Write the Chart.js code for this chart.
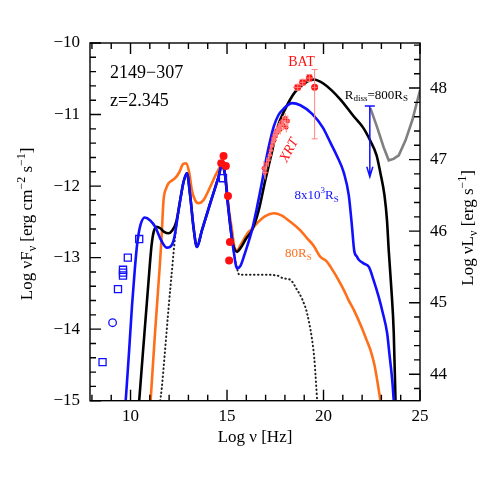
<!DOCTYPE html>
<html>
<head>
<meta charset="utf-8">
<script src="https://cdn.jsdelivr.net/npm/chart.js@4.4.1/dist/chart.umd.min.js"></script>
<style>
  html, body { margin: 0; padding: 0; background: #fff; }
  #wrap { width: 491px; height: 491px; }
</style>
</head>
<body>
<div id="wrap"><canvas id="sed"></canvas></div>
<script>
// x = log nu [Hz], y = log nuFnu [erg cm^-2 s^-1]
const xTicks = [10, 15, 20, 25];
const yTicks = [-15, -14, -13, -12, -11, -10];
const lumTicks = [44, 45, 46, 47, 48];
const lumOffset = 58.63; // log nuL_nu - log nuF_nu

// model curves
const modelBlack = [[10.45,-15],[11.00,-13.10],[11.09,-12.83],[11.20,-12.64],[11.35,-12.57],[11.54,-12.59],[11.74,-12.64],
  [11.97,-12.66],[12.16,-12.62],[12.37,-12.50],[12.57,-12.20],[12.75,-11.94],[12.92,-11.82],[13.09,-12.13],[13.26,-12.57],
  [13.44,-12.85],[13.70,-12.62],[14.13,-12.24],[14.56,-11.87],[14.73,-11.71],[14.88,-11.81],[15.08,-12.34],[15.27,-12.76],
  [15.52,-12.92],[15.69,-12.87],[16.00,-12.73],[16.29,-12.62],[16.64,-12.34],[16.98,-11.92],[17.33,-11.52],[17.59,-11.20],
  [18.02,-10.92],[18.54,-10.68],[19.15,-10.54],[19.48,-10.51],[20.01,-10.57],[20.88,-10.79],[21.55,-11.02],[22.07,-11.19],
  [22.43,-11.37],[22.75,-11.57],[22.95,-11.82],[23.16,-12.13],[23.29,-12.48],[23.38,-12.90],[23.52,-13.45],[23.64,-14.05],[23.73,-15]];
const modelBlue = [[9.75,-15],[9.93,-14.29],[10.08,-13.66],[10.22,-13.17],[10.34,-12.82],[10.50,-12.56],[10.74,-12.44],
  [11.02,-12.48],[11.28,-12.57],[11.59,-12.76],[11.87,-12.86],[12.05,-12.85],[12.26,-12.73],[12.49,-12.34],[12.75,-11.94],
  [12.92,-11.82],[13.09,-12.13],[13.26,-12.57],[13.44,-12.85],[13.70,-12.62],[14.13,-12.24],[14.56,-11.87],[14.73,-11.71],
  [14.88,-11.81],[15.08,-12.34],[15.34,-12.90],[15.52,-13.15],[15.69,-13.12],[15.95,-12.92],[16.29,-12.62],[16.52,-12.34],
  [16.83,-11.92],[17.07,-11.57],[17.42,-11.17],[17.66,-11.01],[17.93,-10.92],[18.37,-10.84],[18.80,-10.87],[19.41,-10.99],
  [19.96,-11.18],[20.37,-11.40],[20.68,-11.57],[21.06,-11.82],[21.31,-12.13],[21.47,-12.55],[21.59,-12.90],[21.74,-12.99],
  [21.83,-13.03],[22.07,-13.08],[22.35,-13.13],[22.59,-13.31],[22.86,-13.55],[23.06,-13.76],[23.30,-14.06],[23.42,-14.36],
  [23.56,-14.71],[23.64,-15]];
const modelOrange = [[11.04,-15],[11.28,-14.01],[11.52,-13.10],[11.60,-12.76],[11.71,-12.20],[11.85,-12.03],[11.97,-11.96],
  [12.16,-11.92],[12.31,-11.89],[12.52,-11.81],[12.73,-11.69],[12.89,-11.68],[13.04,-11.81],[13.18,-12.06],[13.35,-12.20],
  [13.52,-12.24],[13.77,-12.20],[14.13,-12.01],[14.44,-11.83],[14.74,-11.71],[14.91,-11.85],[15.08,-12.29],[15.27,-12.64],
  [15.38,-12.85],[15.52,-12.90],[15.69,-12.83],[15.90,-12.73],[16.12,-12.64],[16.29,-12.60],[16.62,-12.50],[16.98,-12.42],
  [17.42,-12.38],[17.82,-12.41],[18.28,-12.50],[18.80,-12.62],[19.15,-12.73],[19.48,-12.83],[19.84,-12.99],[20.15,-13.05],
  [20.53,-13.20],[20.77,-13.31],[21.05,-13.45],[21.29,-13.59],[21.57,-13.73],[22.00,-13.99],[22.23,-14.15],[22.43,-14.29],
  [22.64,-14.50],[22.78,-14.71],[22.95,-15]];
const modelThermal = [[11.54,-15],[11.62,-14.82],[11.80,-14.26],[11.97,-13.71],[12.14,-13.20],[12.31,-12.71],[12.47,-12.39],
  [12.63,-12.11],[12.78,-11.92],[12.92,-11.82],[13.09,-12.13],[13.26,-12.57],[13.44,-12.85],[13.70,-12.62],[14.13,-12.24],
  [14.56,-11.87],[14.73,-11.71],[14.88,-11.81],[15.08,-12.34],[15.34,-12.90],[15.52,-13.15],[15.64,-13.24],[16.21,-13.24],
  [16.98,-13.24],[17.59,-13.25],[17.93,-13.29],[18.28,-13.31],[18.63,-13.45],[18.91,-13.59],[19.15,-13.78],[19.41,-14.15],
  [19.53,-14.43],[19.58,-14.62],[19.67,-15]];
const fermiSens = [[22.43,-10.91],[22.78,-11.18],[23.12,-11.46],[23.38,-11.64],[23.63,-11.62],[23.90,-11.57],[24.25,-11.36],
  [24.60,-11.08],[25.00,-10.66]];

// observed data
const radioSquares = [[8.55,-14.46],[9.35,-13.44],[9.61,-13.17],[9.61,-13.21],[9.61,-13.25],[9.86,-13.00],[10.45,-12.74],[14.79,-11.89]];
const radioCircle = [[9.07,-13.91]];
const uvotPoints = [[14.82,-11.58],[14.70,-11.68],[14.94,-11.72],[15.05,-12.14],[15.15,-12.78],[15.11,-13.04]];
const xrtPoints = [[16.91,-11.75],[16.98,-11.81],[17.06,-11.69],[17.14,-11.64],[17.22,-11.57],[17.27,-11.50],[17.32,-11.44],
  [17.37,-11.39],[17.40,-11.33],[17.45,-11.36],[17.48,-11.28],[17.53,-11.30],[17.56,-11.23],[17.61,-11.25],[17.66,-11.19],
  [17.71,-11.16],[17.76,-11.21],[17.81,-11.14],[17.87,-11.09],[17.92,-11.15],[18.02,-11.05],[18.15,-11.09],[18.07,-11.18]];
const xrtErrX = [0.12,0.12,0.12,0.1,0.1,0.1,0.1,0.1,0.1,0.1,0.1,0.1,0.1,0.1,0.1,0.1,0.1,0.1,0.1,0.1,0.1,0.12,0.1];
const xrtErrY = [0.1,0.1,0.09,0.09,0.08,0.08,0.08,0.07,0.07,0.07,0.07,0.07,0.07,0.07,0.07,0.07,0.07,0.07,0.07,0.07,0.07,0.08,0.07];
const batPoints = [[18.66,-10.62],[18.92,-10.55],[19.27,-10.49],[19.54,-10.62]];
const batErrX = [0.25,0.15,0.2,0.15];
const batErrUp = [0.04,0.04,0.05,0.25];
const batErrDown = [0.04,0.04,0.05,0.72];
const latUpper = [22.40, -10.88, -11.87]; // x, limit, arrow tip

const BLUE = '#1010ff', ORANGE = '#ff6f1a', RED = '#ff1010', ERR = '#ff8080';
const SERIF = "'Liberation Serif', 'DejaVu Serif', serif";

const pts = arr => arr.map(([x, y]) => ({ x, y }));

function curve(label, arr, color, width, extra) {
  return Object.assign({
    label, data: pts(arr), showLine: true, borderColor: color, borderWidth: width,
    pointRadius: 0, fill: false, cubicInterpolationMode: 'monotone'
  }, extra || {});
}

// text with sub/superscripts, parts = [[text, 'n'|'sub'|'sup'], ...]
function richText(ctx, parts, x, y, size, color, align, style) {
  const pre = style ? style + ' ' : '';
  const fontFor = t => pre + (t === 'n' ? size : Math.round(size * 0.68)) + 'px ' + SERIF;
  let total = 0;
  parts.forEach(([s, t]) => { ctx.font = fontFor(t); total += ctx.measureText(s).width; });
  let cx = align === 'center' ? x - total / 2 : align === 'right' ? x - total : x;
  ctx.fillStyle = color;
  ctx.textAlign = 'left';
  ctx.textBaseline = 'middle';
  parts.forEach(([s, t]) => {
    ctx.font = fontFor(t);
    const dy = t === 'sub' ? size * 0.3 : t === 'sup' ? -size * 0.35 : 0;
    ctx.fillText(s, cx, y + dy);
    cx += ctx.measureText(s).width;
  });
}

const decor = {
  id: 'decor',
  afterDatasetsDraw(chart) {
    const { ctx, scales: { x, y } } = chart;
    ctx.save();
    ctx.strokeStyle = ERR;
    ctx.lineWidth = 1;
    ctx.beginPath();
    xrtPoints.forEach(([vx, vy], i) => {
      const px = x.getPixelForValue(vx), py = y.getPixelForValue(vy);
      ctx.moveTo(x.getPixelForValue(vx - xrtErrX[i]), py);
      ctx.lineTo(x.getPixelForValue(vx + xrtErrX[i]), py);
      ctx.moveTo(px, y.getPixelForValue(vy - xrtErrY[i]));
      ctx.lineTo(px, y.getPixelForValue(vy + xrtErrY[i]));
    });
    batPoints.forEach(([vx, vy], i) => {
      const px = x.getPixelForValue(vx), py = y.getPixelForValue(vy);
      const top = y.getPixelForValue(vy + batErrUp[i]), bot = y.getPixelForValue(vy - batErrDown[i]);
      ctx.moveTo(x.getPixelForValue(vx - batErrX[i]), py);
      ctx.lineTo(x.getPixelForValue(vx + batErrX[i]), py);
      ctx.moveTo(px, top); ctx.lineTo(px, bot);
      ctx.moveTo(px - 3, top); ctx.lineTo(px + 3, top);
      ctx.moveTo(px - 3, bot); ctx.lineTo(px + 3, bot);
    });
    ctx.stroke();
    // upper limit arrow
    const ax = x.getPixelForValue(latUpper[0]);
    const ay = y.getPixelForValue(latUpper[1]), tip = y.getPixelForValue(latUpper[2]);
    ctx.strokeStyle = BLUE;
    ctx.lineWidth = 1.5;
    ctx.beginPath();
    ctx.moveTo(ax - 5, ay); ctx.lineTo(ax + 5, ay);
    ctx.moveTo(ax, ay); ctx.lineTo(ax, tip);
    ctx.moveTo(ax - 3, tip - 10); ctx.lineTo(ax, tip); ctx.lineTo(ax + 3, tip - 10);
    ctx.stroke();
    ctx.restore();
  },
  afterDraw(chart) {
    const { ctx, chartArea: a, scales: { x, y, y2 } } = chart;
    ctx.save();
    ctx.strokeStyle = '#000';
    ctx.lineWidth = 1.4;
    ctx.strokeRect(a.left, a.top, a.right - a.left, a.bottom - a.top);
    ctx.beginPath();
    for (let v = 8; v <= 25; v++) {
      const px = x.getPixelForValue(v), len = v % 5 === 0 ? 11 : 6;
      ctx.moveTo(px, a.bottom); ctx.lineTo(px, a.bottom - len);
      ctx.moveTo(px, a.top); ctx.lineTo(px, a.top + len);
    }
    for (let i = 0; i <= 25; i++) {
      const py = y.getPixelForValue(-15 + i * 0.2), len = i % 5 === 0 ? 11 : 6;
      ctx.moveTo(a.left, py); ctx.lineTo(a.left + len, py);
    }
    for (let i = 0; 43.8 + i * 0.2 <= y2.max; i++) {
      const v = 43.8 + i * 0.2, py = y2.getPixelForValue(v);
      const len = Math.abs(v - Math.round(v)) < 1e-6 ? 11 : 6;
      ctx.moveTo(a.right, py); ctx.lineTo(a.right - len, py);
    }
    ctx.stroke();

    const at = (vx, vy) => [x.getPixelForValue(vx), y.getPixelForValue(vy)];
    let p = at(8.94, -10.42);
    richText(ctx, [['2149\u2212307', 'n']], p[0], p[1], 18, '#000', 'left');
    p = at(8.94, -10.82);
    richText(ctx, [['z=2.345', 'n']], p[0], p[1], 18, '#000', 'left');
    p = at(18.86, -10.27);
    richText(ctx, [['BAT', 'n']], p[0], p[1], 14, RED, 'center');
    p = at(18.23, -11.50);
    ctx.save();
    ctx.translate(p[0], p[1]);
    ctx.rotate(-62 * Math.PI / 180);
    richText(ctx, [['XRT', 'n']], 0, 0, 14, RED, 'center', 'italic');
    ctx.restore();
    p = at(19.64, -12.13);
    richText(ctx, [['8x10', 'n'], ['3', 'sup'], ['R', 'n'], ['S', 'sub']], p[0], p[1], 13, BLUE, 'center');
    p = at(18.70, -12.94);
    richText(ctx, [['80R', 'n'], ['S', 'sub']], p[0], p[1], 13, ORANGE, 'center');
    p = at(22.74, -10.73);
    richText(ctx, [['R', 'n'], ['diss', 'sub'], ['=800R', 'n'], ['S', 'sub']], p[0], p[1], 13, '#000', 'center');

    // axis titles
    richText(ctx, [['Log \u03bd [Hz]', 'n']], (a.left + a.right) / 2, a.bottom + 37, 17, '#000', 'center');
    ctx.save();
    ctx.translate(28, (a.top + a.bottom) / 2 + 2);
    ctx.rotate(-Math.PI / 2);
    richText(ctx, [['Log \u03bdF', 'n'], ['\u03bd', 'sub'], [' [erg cm', 'n'], ['\u22122', 'sup'], [' s', 'n'], ['\u22121', 'sup'], [']', 'n']],
      0, 0, 17, '#000', 'center');
    ctx.restore();
    ctx.save();
    ctx.translate(469, (a.top + a.bottom) / 2 + 6);
    ctx.rotate(-Math.PI / 2);
    richText(ctx, [['Log \u03bdL', 'n'], ['\u03bd', 'sub'], [' [erg s', 'n'], ['\u22121', 'sup'], [']', 'n']],
      0, 0, 17, '#000', 'center');
    ctx.restore();
    ctx.restore();
  }
};

const tickFont = { family: SERIF, size: 17 };
const minus = v => String(v).replace('-', '\u2212');
const noGrid = { display: false, drawTicks: false, tickLength: 0 };

new Chart(document.getElementById('sed'), {
  type: 'scatter',
  data: {
    datasets: [
      { label: 'UVOT', data: pts(uvotPoints), pointRadius: 4, backgroundColor: RED, borderWidth: 0 },
      { label: 'BAT', data: pts(batPoints), pointRadius: 3.5, backgroundColor: RED, borderWidth: 0 },
      { label: 'XRT', data: pts(xrtPoints), pointRadius: 2.2, backgroundColor: RED, borderWidth: 0 },
      { label: 'Radio/IR', data: pts(radioSquares), pointStyle: 'rect', pointRadius: 5, borderColor: BLUE,
        backgroundColor: 'rgba(0,0,0,0)', borderWidth: 1.3 },
      { label: 'Radio', data: pts(radioCircle), pointRadius: 3.8, borderColor: BLUE,
        backgroundColor: 'rgba(0,0,0,0)', borderWidth: 1.3 },
      curve('8x10^3 Rs', modelBlue, BLUE, 2.6),
      curve('800 Rs', modelBlack, '#000', 2.6),
      curve('80 Rs', modelOrange, ORANGE, 2.6),
      curve('Fermi sensitivity', fermiSens, '#808080', 2.6, { cubicInterpolationMode: 'default', tension: 0 }),
      curve('disk+torus+corona', modelThermal, '#222', 2, { borderDash: [0.5, 3.5], borderCapStyle: 'round' })
    ]
  },
  options: {
    responsive: true,
    maintainAspectRatio: false,
    animation: false,
    layout: { padding: { top: 43, left: 0, right: 0, bottom: 0 } },
    plugins: { legend: { display: false }, tooltip: { enabled: false } },
    scales: {
      x: {
        type: 'linear', position: 'bottom', min: 7.9, max: 25,
        afterBuildTicks: s => { s.ticks = xTicks.map(v => ({ value: v })); },
        afterFit: s => { s.height = 90.3; },
        grid: noGrid, border: { display: false },
        ticks: { font: tickFont, color: '#000', padding: 6, maxRotation: 0 }
      },
      y: {
        type: 'linear', position: 'left', min: -15, max: -10,
        afterBuildTicks: s => { s.ticks = yTicks.map(v => ({ value: v })); },
        afterFit: s => { s.width = 90; },
        grid: noGrid, border: { display: false },
        ticks: { font: tickFont, color: '#000', padding: 10, callback: v => minus(v) }
      },
      y2: {
        type: 'linear', position: 'right', min: -15 + lumOffset, max: -10 + lumOffset,
        afterBuildTicks: s => { s.ticks = lumTicks.map(v => ({ value: v })); },
        afterFit: s => { s.width = 71; },
        grid: noGrid, border: { display: false },
        ticks: { font: tickFont, color: '#000', padding: 10 }
      }
    }
  },
  plugins: [decor]
});
</script>
</body>
</html>
